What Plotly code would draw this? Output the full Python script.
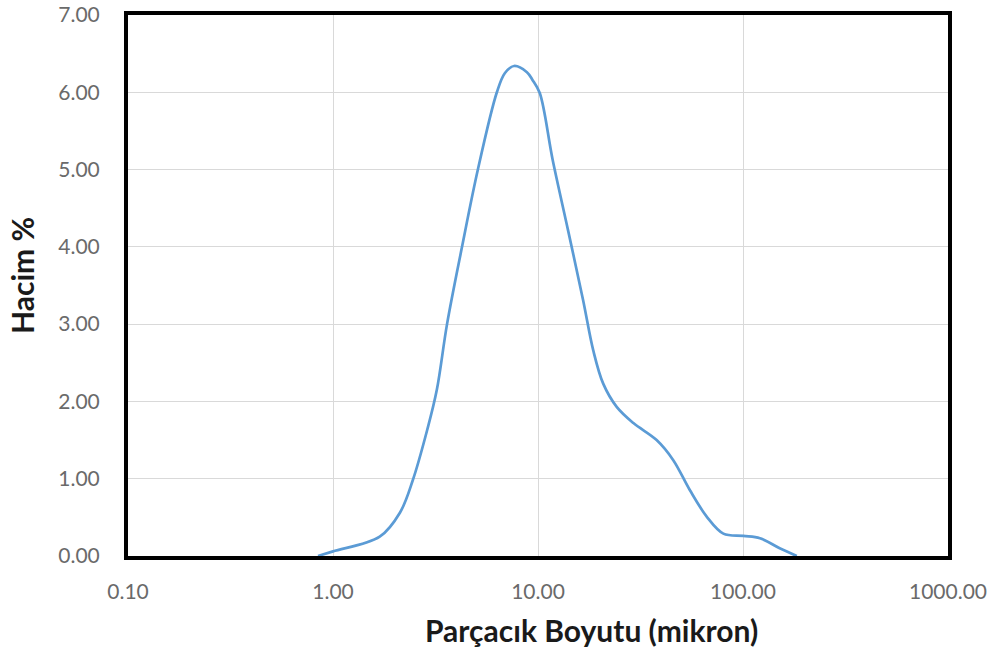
import plotly.graph_objects as go

# Particle size (micron) and volume %
size_um = [0.845, 1.0, 1.69, 2.12, 2.45, 2.88, 3.21, 3.6, 4.26, 5.09, 6.3, 6.9, 7.64,
           8.83, 9.4, 10.2, 11.8, 14.0, 16.6, 18.6, 20.8, 24.2, 29.2, 37.9, 45.7, 55.1,
           66.5, 80.2, 100.4, 121.0, 151.0, 183.0]
volume_pct = [0.0, 0.06, 0.25, 0.56, 0.98, 1.63, 2.15, 3.0, 4.0, 5.0, 6.0, 6.25, 6.34,
              6.26, 6.16, 5.99, 5.12, 4.22, 3.31, 2.66, 2.23, 1.93, 1.72, 1.50, 1.24, 0.85,
              0.51, 0.29, 0.26, 0.23, 0.10, 0.0]

x_tickvals = [0.1, 1, 10, 100, 1000]
x_ticktext = ["0.10", "1.00", "10.00", "100.00", "1000.00"]
y_tickvals = [0, 1, 2, 3, 4, 5, 6, 7]
y_ticktext = ["0.00", "1.00", "2.00", "3.00", "4.00", "5.00", "6.00", "7.00"]
x_title = "Parçacık Boyutu (mikron)"
y_title = "Hacim %"

fig = go.Figure()
fig.add_trace(go.Scatter(
    x=size_um, y=volume_pct, mode="lines",
    line=dict(color="#5B9BD5", width=2.7, shape="spline", smoothing=1.0),
    showlegend=False,
))

tick_font = dict(family="Lato, Open Sans, sans-serif", size=21, color="#6a6a6a")
title_font = dict(family="Lato, Open Sans, sans-serif", size=30, color="#1a1a1a")

fig.update_layout(
    width=997, height=652,
    margin=dict(l=128, r=49, t=15, b=96, autoexpand=False),
    paper_bgcolor="white", plot_bgcolor="white",
    xaxis=dict(
        type="log", range=[-1, 3], automargin=False,
        tickvals=x_tickvals, ticktext=x_ticktext,
        tickfont=tick_font,
        showgrid=True, gridcolor="#d9d9d9", gridwidth=1,
        showline=True, linecolor="black", linewidth=4, mirror=True,
        ticks="", ticklabelstandoff=14,
        zeroline=False,
    ),
    yaxis=dict(
        range=[0, 7], automargin=False,
        tickvals=y_tickvals, ticktext=y_ticktext,
        tickfont=tick_font,
        showgrid=True, gridcolor="#d9d9d9", gridwidth=1,
        showline=True, linecolor="black", linewidth=4, mirror=True,
        ticks="", ticklabelstandoff=20,
        zeroline=False,
    ),
    annotations=[
        dict(text="<b>" + x_title + "</b>", xref="paper", yref="paper",
             x=(591 - 128) / 820, y=(556 - 630) / 541, xanchor="center", yanchor="middle",
             showarrow=False, font=title_font),
        dict(text="<b>" + y_title + "</b>", xref="paper", yref="paper",
             x=(22 - 128) / 820, y=(556 - 276) / 541, xanchor="center", yanchor="middle",
             textangle=-90, showarrow=False, font=title_font),
    ],
)

fig.write_html("out.html", post_script="document.body.style.margin='0';",
               config={"displayModeBar": False})
